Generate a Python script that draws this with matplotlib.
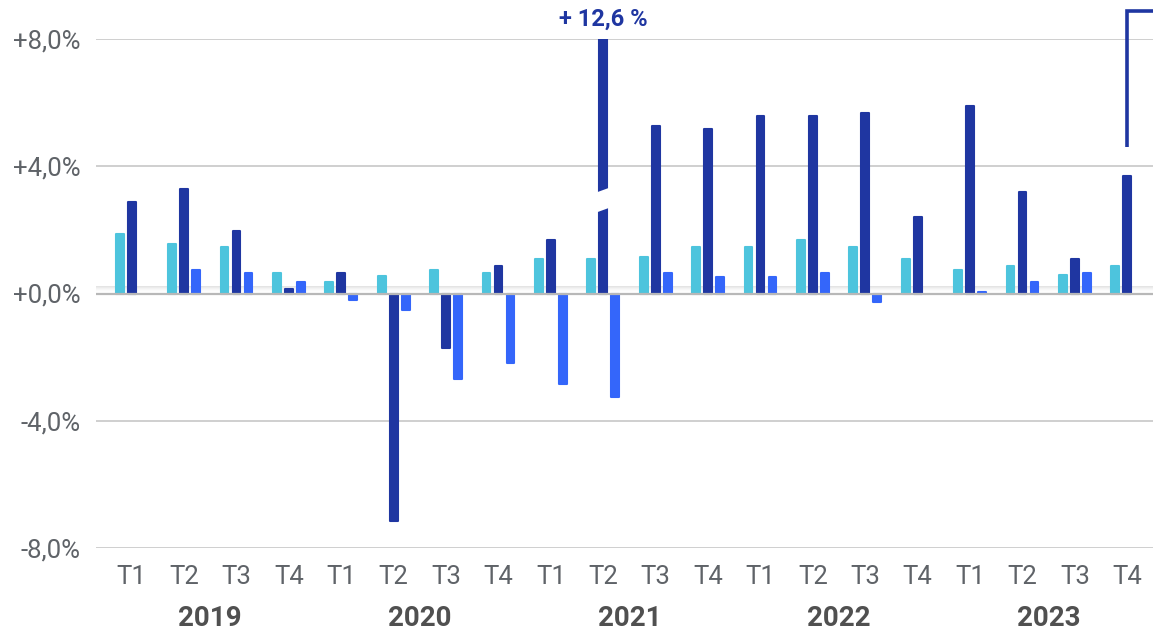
import matplotlib.pyplot as plt
import matplotlib.transforms as mtransforms
import matplotlib.colors as mcolors
import numpy as np

plt.rcParams['font.family'] = ['Roboto', 'DejaVu Sans']

quarters = ["T1", "T2", "T3", "T4"] * 5
years = ["2019", "2020", "2021", "2022", "2023"]

serie_a = [1.88, 1.57, 1.45, 0.66, 0.35, 0.55, 0.75, 0.66, 1.07, 1.07,
           1.16, 1.45, 1.45, 1.67, 1.45, 1.07, 0.75, 0.85, 0.57, 0.85]
serie_b = [2.87, 3.30, 1.95, 0.15, 0.66, -7.14, -1.70, 0.85, 1.67, 12.6,
           5.25, 5.16, 5.57, 5.57, 5.66, 2.39, 5.88, 3.18, 1.07, 3.68]
serie_c = [0.0, 0.75, 0.66, 0.35, -0.22, -0.53, -2.70, -2.20, -2.83, -3.24,
           0.66, 0.53, 0.53, 0.66, -0.28, 0.0, 0.05, 0.35, 0.66, 0.0]

yticks = [-8, -4, 0, 4, 8]
ytick_labels = ["-8,0%", "-4,0%", "+0,0%", "+4,0%", "+8,0%"]
outlier_label = "+ 12,6 %"

C_CYAN = "#4DC4DD"
C_NAVY = "#1F36A1"
C_BLUE = "#3466FA"
GRID = "#CCCCCC"
TXT = "#5F6368"

fig = plt.figure(figsize=(11.53, 6.33), dpi=100, facecolor="white")
ax = fig.add_axes([96 / 1153, 1 - 548 / 633, 1 - 96 / 1153, (548 - 39) / 633])
ax.set_facecolor("white")

x = np.arange(len(quarters))
off, w = 0.229, 0.15
ymin, ymax = -8, 8

for vals, dx, col in [(serie_a, -off, C_CYAN), (serie_b, 0, C_NAVY), (serie_c, off, C_BLUE)]:
    v = np.clip(vals, ymin, ymax)
    bars = ax.bar(x + dx, v, width=w, color=col, edgecolor=col, linewidth=1.5, zorder=3)
    for b, val in zip(bars, vals):
        b.set_joinstyle("round")
        if val == 0:
            b.set_visible(False)

# break on the outlier bar
i_out = int(np.argmax(serie_b))
xl, xr = i_out - w / 2 - 0.05, i_out + w / 2 + 0.05
ax.fill([xl, xr, xr, xl], [2.55, 2.70, 3.33, 3.18], color="white", zorder=4, lw=0)
ax.text(i_out, 8.62, outlier_label, ha="center", va="center", color=C_NAVY,
        fontsize=17, fontweight="bold", clip_on=False)

# bracket at the right edge
i_last = len(quarters) - 1
ax.plot([i_last, i_last, i_last + 1], [4.6, 8.87, 8.87], color=C_NAVY, lw=2.6,
        solid_capstyle="butt", solid_joinstyle="miter", clip_on=False, zorder=5)

# grid
for yt in yticks:
    ax.axhline(yt, color=GRID, lw=1.3, zorder=1)
ax.axhline(0, color="#B8B8B8", lw=1.6, zorder=4)

# soft shadow above the zero line
grad = np.linspace(0, 1, 64).reshape(-1, 1)
cmap = mcolors.LinearSegmentedColormap.from_list("sh", [(1, 1, 1, 0), (0.88, 0.88, 0.88, 1)])
ax.imshow(grad, extent=[-0.68, 19.49, 0, 0.22], aspect="auto", cmap=cmap,
          origin="lower", zorder=2)

ax.set_xlim(-0.68, 19.49)
ax.set_ylim(ymin, ymax)
for s in ax.spines.values():
    s.set_visible(False)

ax.set_yticks(yticks)
ax.set_yticklabels(ytick_labels)
ax.tick_params(axis="y", length=0, pad=11, labelsize=18.5, labelcolor=TXT)
ax.set_xticks(x)
ax.set_xticklabels(quarters)
ax.tick_params(axis="x", length=0, pad=12, labelsize=18.5, labelcolor=TXT)

trans = mtransforms.blended_transform_factory(ax.transData, fig.transFigure)
for k, yr in enumerate(years):
    ax.text(4 * k + 1.5, 1 - 618 / 633, yr, transform=trans, ha="center", va="center",
            fontsize=20, fontweight="bold", color="#505050")

fig.savefig("out.png", dpi=100, facecolor="white")
